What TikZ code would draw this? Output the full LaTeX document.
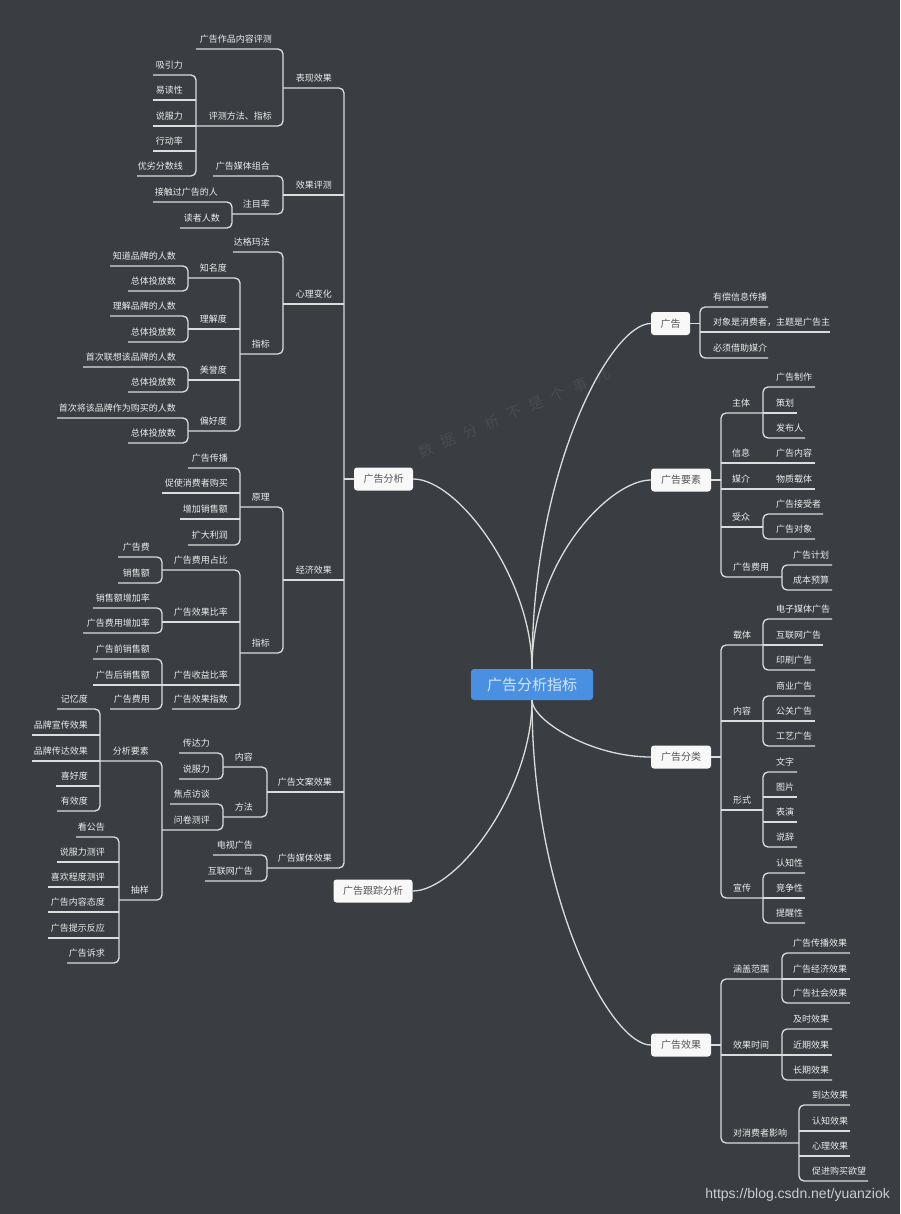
\documentclass[tikz,border=0pt]{standalone}
\usepackage{fontspec}
\setmainfont{Noto Sans CJK SC}
\newfontfamily\urlfont{Liberation Sans}
\definecolor{bgc}{RGB}{58,62,66}
\definecolor{ln}{RGB}{220,220,220}
\definecolor{txt}{RGB}{236,236,236}
\definecolor{boxw}{RGB}{248,248,248}
\definecolor{boxt}{RGB}{85,85,85}
\definecolor{rootc}{RGB}{74,144,226}
\definecolor{roott}{RGB}{214,230,250}
\definecolor{urlc}{RGB}{205,205,205}
\tikzset{
  lbl/.style={inner sep=0pt, text=txt, font=\fontsize{9}{10}\selectfont},
  conn/.style={draw=ln, line width=1.3pt, rounded corners=5pt},
  curve/.style={draw=ln, line width=1.3pt},
  box/.style={inner sep=0pt, minimum height=23pt, rounded corners=3pt, fill=boxw, text=boxt, font=\fontsize{10}{12}\selectfont},
  rootbox/.style={inner sep=0pt, minimum width=122pt, minimum height=31pt, rounded corners=3pt, fill=rootc, text=roott, font=\fontsize{15}{17}\selectfont},
  wmark/.style={inner sep=0pt, rotate=23, text=white, text opacity=0.07, font=\fontsize{15}{16}\selectfont},
}
\newcommand\myL[5]{\node[lbl,anchor=east] (#1) at (#2,#3-9.5) {#5};\coordinate (#1-s) at (#4,#3);}
\newcommand\myR[5]{\node[lbl,anchor=west] (#1) at (#2,#3-9.5) {#5};\coordinate (#1-s) at (#4,#3);}
\newcommand\myB[3]{\draw[conn] (#2-s) -- (#2-s -| #1-s) -- (#3-s -| #1-s) -- (#3-s);}
\newcommand\myM[2]{\draw[conn] (#2-s) -- (#2-s -| #1-s);}
\begin{document}
\begin{tikzpicture}[x=1pt,y=-1pt]
\fill[bgc] (0,0) rectangle (900,1214);
\useasboundingbox (0,0) rectangle (900,1214);
\foreach \c [count=\i from 0] in {数,据,分,析,不,是,个,事,儿}
  \node[wmark] (wm\i) at ({426+\i*22},{450-\i*9.3}) {\c};
% boxes
\node[rootbox] (root) at (532,684.5) {广告分析指标};
\node[box, minimum width=59pt] (ana) at (383.5,479) {广告分析};
\node[box, minimum width=79pt] (track) at (373,891) {广告跟踪分析};
\node[box, minimum width=39pt] (ad) at (670.5,323.5) {广告};
\node[box, minimum width=60pt] (ys) at (681,480) {广告要素};
\node[box, minimum width=60pt] (fl) at (681,757) {广告分类};
\node[box, minimum width=60pt] (xg) at (681,1045) {广告效果};
\draw[curve] (root.north) .. controls +(0,-90) and +(45,0) .. (ana.east);
\draw[curve] (root.north) .. controls +(0,-200) and +(-40,0) .. (ad.west);
\draw[curve] (root.north) .. controls +(0,-110) and +(-40,0) .. (ys.west);
\draw[curve] (root.south) .. controls +(0,20) and +(-60,0) .. (fl.west);
\draw[curve] (root.south) .. controls +(0,200) and +(-40,0) .. (xg.west);
\draw[curve] (root.south) .. controls +(0,90) and +(45,0) .. (track.east);
\coordinate (ana-s) at (344,479);
\coordinate (ad-s) at (700,323.5);
\coordinate (ys-s) at (721,480);
\coordinate (fl-s) at (721,757);
\coordinate (xg-s) at (721,1045);
\draw[conn] (ana.west) -- (ana-s);
\draw[conn] (ad.east) -- (ad-s);
\draw[conn] (ys.east) -- (ys-s);
\draw[conn] (fl.east) -- (fl-s);
\draw[conn] (xg.east) -- (xg-s);
% ---------- left ----------
\myL{bxxg}{332}{88}{283}{表现效果}
\myL{xgpc}{332}{195}{283}{效果评测}
\myL{xlbh}{332}{304}{283}{心理变化}
\myL{jjxg}{332}{580}{283}{经济效果}
\myL{wanan}{332}{792}{267}{广告文案效果}
\myL{meiti}{332}{868}{267}{广告媒体效果}
\myB{ana}{bxxg}{meiti}\myM{ana}{xgpc}\myM{ana}{xlbh}\myM{ana}{jjxg}\myM{ana}{wanan}
\myL{zpnr}{272}{49}{196}{广告作品内容评测}
\myL{pcff}{272}{126}{196}{评测方法、指标}
\myB{bxxg}{zpnr}{pcff}
\myL{xyl}{183}{75}{153}{吸引力}
\myL{ydx}{183}{100}{153}{易读性}
\myL{sfla}{183}{126}{153}{说服力}
\myL{xdl}{183}{151}{153}{行动率}
\myL{ylfs}{183}{176}{137}{优劣分数线}
\myB{pcff}{xyl}{ylfs}\myM{pcff}{ydx}\myM{pcff}{sfla}\myM{pcff}{xdl}
\myL{mtzh}{270}{176}{213}{广告媒体组合}
\myL{zml}{270}{214}{232}{注目率}
\myB{xgpc}{mtzh}{zml}
\myL{jcgg}{218}{202}{153}{接触过广告的人}
\myL{dzrs}{220}{228}{180}{读者人数}
\myB{zml}{jcgg}{dzrs}
\myL{dgmf}{270}{252}{233}{达格玛法}
\myL{zba}{270}{354}{240}{指标}
\myB{xlbh}{dgmf}{zba}
\myL{zmd}{227}{278}{188}{知名度}
\myL{ljd}{227}{329}{188}{理解度}
\myL{myd}{227}{380}{188}{美誉度}
\myL{phd}{227}{431}{188}{偏好度}
\myB{zba}{zmd}{phd}\myM{zba}{ljd}\myM{zba}{myd}
\myL{zdpp}{176}{266}{110}{知道品牌的人数}
\myL{zta}{176}{291}{128}{总体投放数}
\myB{zmd}{zdpp}{zta}
\myL{ljpp}{176}{316}{110}{理解品牌的人数}
\myL{ztb}{176}{342}{128}{总体投放数}
\myB{ljd}{ljpp}{ztb}
\myL{sclx}{176}{367}{83}{首次联想该品牌的人数}
\myL{ztc}{176}{392}{128}{总体投放数}
\myB{myd}{sclx}{ztc}
\myL{scjg}{176}{418}{57}{首次将该品牌作为购买的人数}
\myL{ztd}{176}{443}{128}{总体投放数}
\myB{phd}{scjg}{ztd}
\myL{yl}{270}{507}{240}{原理}
\myL{zbb}{270}{653}{240}{指标}
\myB{jjxg}{yl}{zbb}
\myL{ggcb}{228}{468}{188}{广告传播}
\myL{cssf}{228}{493}{162}{促使消费者购买}
\myL{zjxs}{228}{519}{180}{增加销售额}
\myL{kdlr}{228}{545}{188}{扩大利润}
\myB{yl}{ggcb}{kdlr}\myM{yl}{cssf}\myM{yl}{zjxs}
\myL{fyzb}{228}{570}{162}{广告费用占比}
\myL{xgbl}{228}{622}{162}{广告效果比率}
\myL{sybl}{228}{685}{162}{广告收益比率}
\myL{xgzs}{228}{709}{172}{广告效果指数}
\myB{zbb}{fyzb}{xgzs}\myM{zbb}{xgbl}\myM{zbb}{sybl}
\myL{ggf}{150}{557}{118}{广告费}
\myL{xse}{150}{583}{118}{销售额}
\myB{fyzb}{ggf}{xse}
\myL{xszj}{150}{608}{93}{销售额增加率}
\myL{fyzj}{150}{633}{83}{广告费用增加率}
\myB{xgbl}{xszj}{fyzj}
\myL{qxs}{150}{659}{93}{广告前销售额}
\myL{hxs}{150}{685}{93}{广告后销售额}
\myL{ggfy}{150}{709}{110}{广告费用}
\myB{sybl}{qxs}{ggfy}\myM{sybl}{hxs}
\myL{nr}{253}{767}{223}{内容}
\myL{ff}{253}{817}{223}{方法}
\myB{wanan}{nr}{ff}
\myL{cdl}{210}{753}{179}{传达力}
\myL{sflb}{210}{779}{179}{说服力}
\myB{nr}{cdl}{sflb}
\myL{jdft}{210}{804}{170}{焦点访谈}
\myL{wjcp}{210}{830}{162}{问卷测评}
\myB{ff}{jdft}{wjcp}
\myL{fxys}{149}{761}{100}{分析要素}
\myL{cy}{149}{900}{119}{抽样}
\myB{wjcp}{fxys}{cy}
\myL{jyd}{88}{709}{57}{记忆度}
\myL{ppxc}{88}{735}{32}{品牌宣传效果}
\myL{ppcd}{88}{761}{32}{品牌传达效果}
\myL{xhd}{88}{786}{56}{喜好度}
\myL{yxd}{88}{811}{57}{有效度}
\myB{fxys}{jyd}{yxd}\myM{fxys}{ppxc}\myM{fxys}{ppcd}\myM{fxys}{xhd}
\myL{kgg}{105}{837}{76}{看公告}
\myL{sflc}{105}{862}{57}{说服力测评}
\myL{xhcd}{105}{887}{48}{喜欢程度测评}
\myL{nrtd}{105}{912}{48}{广告内容态度}
\myL{tsfy}{105}{938}{48}{广告提示反应}
\myL{ggsq}{105}{963}{67}{广告诉求}
\myB{cy}{kgg}{ggsq}\myM{cy}{sflc}\myM{cy}{xhcd}\myM{cy}{nrtd}\myM{cy}{tsfy}
\myL{dsgg}{253}{855}{213}{电视广告}
\myL{hlwa}{253}{881}{205}{互联网广告}
\myB{meiti}{dsgg}{hlwa}
% ---------- right ----------
\myR{ycxx}{713}{307}{768}{有偿信息传播}
\myR{dxs}{713}{332}{830}{对象是消费者，主题是广告主}
\myR{bxjz}{713}{358}{768}{必须借助媒介}
\myB{ad}{ycxx}{bxjz}\myM{ad}{dxs}
\myR{zt}{732}{413}{763}{主体}
\myR{xx}{732}{463}{763}{信息}
\myR{mj}{732}{489}{763}{媒介}
\myR{sz}{732}{527}{763}{受众}
\myR{fyr}{733}{577}{782}{广告费用}
\myB{ys}{zt}{fyr}\myM{ys}{xx}\myM{ys}{mj}\myM{ys}{sz}
\myR{ggzz}{776}{387}{815}{广告制作}
\myR{ch}{776}{413}{797}{策划}
\myR{fbr}{776}{438}{805}{发布人}
\myB{zt}{ggzz}{fbr}\myM{zt}{ch}
\myR{ggnr}{776}{463}{815}{广告内容}
\myM{xx}{ggnr}
\myR{wzzt}{776}{489}{815}{物质载体}
\myM{mj}{wzzt}
\myR{jsz}{776}{514}{823}{广告接受者}
\myR{ggdx}{776}{539}{815}{广告对象}
\myB{sz}{jsz}{ggdx}
\myR{ggjh}{793}{565}{832}{广告计划}
\myR{cbys}{793}{590}{832}{成本预算}
\myB{fyr}{ggjh}{cbys}
\myR{zaiti}{733}{645}{763}{载体}
\myR{nrr}{733}{721}{763}{内容}
\myR{xs}{733}{810}{763}{形式}
\myR{xc}{733}{898}{763}{宣传}
\myB{fl}{zaiti}{xc}\myM{fl}{nrr}\myM{fl}{xs}
\myR{dzmt}{776}{619}{832}{电子媒体广告}
\myR{hlwb}{776}{645}{823}{互联网广告}
\myR{ysgg}{776}{670}{815}{印刷广告}
\myB{zaiti}{dzmt}{ysgg}\myM{zaiti}{hlwb}
\myR{syg}{776}{696}{815}{商业广告}
\myR{ggg}{776}{721}{815}{公关广告}
\myR{gyg}{776}{746}{815}{工艺广告}
\myB{nrr}{syg}{gyg}\myM{nrr}{ggg}
\myR{wz}{776}{772}{797}{文字}
\myR{tp}{776}{797}{797}{图片}
\myR{byy}{776}{822}{797}{表演}
\myR{sc}{776}{847}{797}{说辞}
\myB{xs}{wz}{sc}\myM{xs}{tp}\myM{xs}{byy}
\myR{rzx}{776}{873}{805}{认知性}
\myR{jzx}{776}{898}{805}{竞争性}
\myR{txx}{776}{923}{805}{提醒性}
\myB{xc}{rzx}{txx}\myM{xc}{jzx}
\myR{hgfw}{733}{979}{782}{涵盖范围}
\myR{xgsj}{733}{1055}{782}{效果时间}
\myR{dxfz}{733}{1143}{799}{对消费者影响}
\myB{xg}{hgfw}{dxfz}\myM{xg}{xgsj}
\myR{cbxg}{793}{953}{850}{广告传播效果}
\myR{jjxgr}{793}{979}{850}{广告经济效果}
\myR{shxg}{793}{1003}{850}{广告社会效果}
\myB{hgfw}{cbxg}{shxg}\myM{hgfw}{jjxgr}
\myR{jsxg}{793}{1029}{832}{及时效果}
\myR{jqxg}{793}{1055}{832}{近期效果}
\myR{cqxg}{793}{1080}{832}{长期效果}
\myB{xgsj}{jsxg}{cqxg}\myM{xgsj}{jqxg}
\myR{ddxg}{812}{1105}{850}{到达效果}
\myR{rzxg}{812}{1131}{850}{认知效果}
\myR{xlxg}{812}{1156}{850}{心理效果}
\myR{cjgm}{812}{1181}{868}{促进购买欲望}
\myB{dxfz}{ddxg}{cjgm}\myM{dxfz}{rzxg}\myM{dxfz}{xlxg}
\node[anchor=east, inner sep=0pt, text=urlc, font=\urlfont\fontsize{14}{16}\selectfont] (url) at (890,1195) {https://blog.csdn.net/yuanziok};
\end{tikzpicture}
\end{document}
